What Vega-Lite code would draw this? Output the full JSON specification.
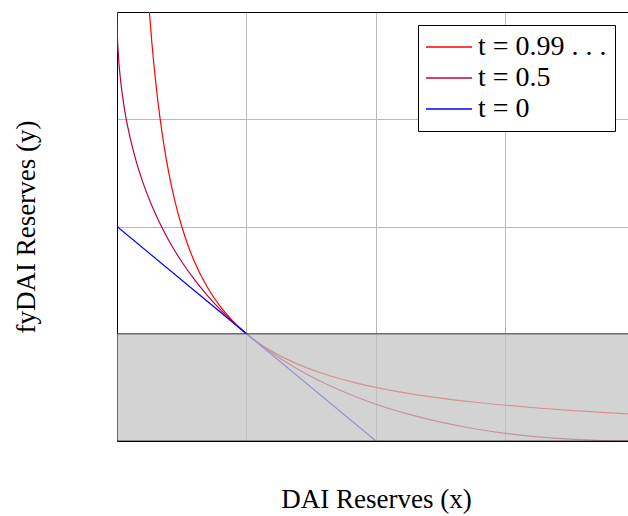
{
  "$schema": "https://vega.github.io/schema/vega-lite/v6.json",
  "width": 511,
  "height": 429,
  "autosize": "none",
  "padding": {"left": 117, "top": 12, "right": 0, "bottom": 75},
  "background": "white",
  "config": {
    "view": {"stroke": null},
    "font": "Liberation Serif",
    "axis": {
      "labels": false,
      "ticks": false,
      "domainColor": "black",
      "domainWidth": 1,
      "gridColor": "#b8b8b8",
      "gridWidth": 1,
      "titleFont": "Liberation Serif",
      "titleFontSize": 27,
      "titleFontWeight": "normal",
      "titleColor": "black"
    }
  },
  "datasets": {
    "curves": [
      {"series": "t = 0.99 . . .", "x": 0.24, "y": 4.1667},
      {"series": "t = 0.99 . . .", "x": 0.25, "y": 4.0},
      {"series": "t = 0.99 . . .", "x": 0.27, "y": 3.7037},
      {"series": "t = 0.99 . . .", "x": 0.3, "y": 3.3333},
      {"series": "t = 0.99 . . .", "x": 0.33, "y": 3.0303},
      {"series": "t = 0.99 . . .", "x": 0.36, "y": 2.7778},
      {"series": "t = 0.99 . . .", "x": 0.4, "y": 2.5},
      {"series": "t = 0.99 . . .", "x": 0.45, "y": 2.2222},
      {"series": "t = 0.99 . . .", "x": 0.5, "y": 2.0},
      {"series": "t = 0.99 . . .", "x": 0.55, "y": 1.8182},
      {"series": "t = 0.99 . . .", "x": 0.6, "y": 1.6667},
      {"series": "t = 0.99 . . .", "x": 0.7, "y": 1.4286},
      {"series": "t = 0.99 . . .", "x": 0.8, "y": 1.25},
      {"series": "t = 0.99 . . .", "x": 0.9, "y": 1.1111},
      {"series": "t = 0.99 . . .", "x": 1.0, "y": 1.0},
      {"series": "t = 0.99 . . .", "x": 1.2, "y": 0.8333},
      {"series": "t = 0.99 . . .", "x": 1.4, "y": 0.7143},
      {"series": "t = 0.99 . . .", "x": 1.6, "y": 0.625},
      {"series": "t = 0.99 . . .", "x": 1.8, "y": 0.5556},
      {"series": "t = 0.99 . . .", "x": 2.0, "y": 0.5},
      {"series": "t = 0.99 . . .", "x": 2.25, "y": 0.4444},
      {"series": "t = 0.99 . . .", "x": 2.5, "y": 0.4},
      {"series": "t = 0.99 . . .", "x": 2.75, "y": 0.3636},
      {"series": "t = 0.99 . . .", "x": 3.0, "y": 0.3333},
      {"series": "t = 0.99 . . .", "x": 3.25, "y": 0.3077},
      {"series": "t = 0.99 . . .", "x": 3.5, "y": 0.2857},
      {"series": "t = 0.99 . . .", "x": 3.75, "y": 0.2667},
      {"series": "t = 0.99 . . .", "x": 4.0, "y": 0.25},
      {"series": "t = 0.5", "x": 0.0, "y": 4.0},
      {"series": "t = 0.5", "x": 0.0025, "y": 3.8025},
      {"series": "t = 0.5", "x": 0.01, "y": 3.61},
      {"series": "t = 0.5", "x": 0.02, "y": 3.4543},
      {"series": "t = 0.5", "x": 0.05, "y": 3.1556},
      {"series": "t = 0.5", "x": 0.1, "y": 2.8351},
      {"series": "t = 0.5", "x": 0.15, "y": 2.6008},
      {"series": "t = 0.5", "x": 0.2, "y": 2.4112},
      {"series": "t = 0.5", "x": 0.3, "y": 2.1091},
      {"series": "t = 0.5", "x": 0.4, "y": 1.8702},
      {"series": "t = 0.5", "x": 0.5, "y": 1.6716},
      {"series": "t = 0.5", "x": 0.6, "y": 1.5016},
      {"series": "t = 0.5", "x": 0.7, "y": 1.3534},
      {"series": "t = 0.5", "x": 0.8, "y": 1.2223},
      {"series": "t = 0.5", "x": 0.9, "y": 1.1053},
      {"series": "t = 0.5", "x": 1.0, "y": 1.0},
      {"series": "t = 0.5", "x": 1.2, "y": 0.8182},
      {"series": "t = 0.5", "x": 1.4, "y": 0.6671},
      {"series": "t = 0.5", "x": 1.6, "y": 0.5404},
      {"series": "t = 0.5", "x": 1.8, "y": 0.4334},
      {"series": "t = 0.5", "x": 2.0, "y": 0.3431},
      {"series": "t = 0.5", "x": 2.25, "y": 0.25},
      {"series": "t = 0.5", "x": 2.5, "y": 0.1754},
      {"series": "t = 0.5", "x": 2.75, "y": 0.1168},
      {"series": "t = 0.5", "x": 3.0, "y": 0.0718},
      {"series": "t = 0.5", "x": 3.25, "y": 0.0389},
      {"series": "t = 0.5", "x": 3.5, "y": 0.0167},
      {"series": "t = 0.5", "x": 3.75, "y": 0.004},
      {"series": "t = 0.5", "x": 4.0, "y": 0.0},
      {"series": "t = 0", "x": 0.0, "y": 2.0},
      {"series": "t = 0", "x": 2.0, "y": 0.0}
    ],
    "band": [
      {"x": 0, "x2": 4, "y": 0, "y2": 1}
    ]
  },
  "layer": [
    {
      "data": {"name": "curves"},
      "mark": {"type": "line", "clip": true, "strokeWidth": 1.2, "interpolate": "monotone"},
      "encoding": {
        "x": {
          "field": "x",
          "type": "quantitative",
          "scale": {"domain": [0, 3.946], "nice": false, "zero": false},
          "axis": {
            "orient": "bottom",
            "values": [1, 2, 3],
            "grid": true,
            "title": "DAI Reserves (x)",
            "titlePadding": 45,
            "titleX": 259
          }
        },
        "y": {
          "field": "y",
          "type": "quantitative",
          "scale": {"domain": [0, 4], "nice": false, "zero": false},
          "axis": {
            "values": [1, 2, 3],
            "grid": true,
            "title": "fyDAI Reserves (y)",
            "titlePadding": 77
          }
        },
        "color": {
          "field": "series",
          "type": "nominal",
          "scale": {
            "domain": ["t = 0.99 . . .", "t = 0.5", "t = 0"],
            "range": ["#ff0000", "#bf0040", "#0000ff"]
          },
          "legend": {
            "title": null,
            "orient": "none",
            "legendX": 301,
            "legendY": 13,
            "symbolType": "M-2,0H2",
            "symbolSize": 529,
            "symbolOffset": 9,
            "symbolStrokeWidth": 1.4,
            "labelFont": "Liberation Serif",
            "labelFontSize": 28,
            "labelColor": "black",
            "labelLimit": 0,
            "labelOffset": 15,
            "rowPadding": 3,
            "padding": 8,
            "strokeColor": "black",
            "fillColor": "white",
            "cornerRadius": 0
          }
        }
      }
    },
    {
      "data": {"name": "band"},
      "mark": {"type": "rect", "clip": true, "fill": "#c4c4c4", "fillOpacity": 0.75, "stroke": "#404040", "strokeWidth": 1},
      "encoding": {
        "x": {
          "field": "x",
          "type": "quantitative",
          "axis": {"orient": "top", "grid": false, "domain": true, "title": null}
        },
        "x2": {"field": "x2"},
        "y": {"field": "y", "type": "quantitative"},
        "y2": {"field": "y2"}
      }
    }
  ],
  "resolve": {"axis": {"x": "independent"}}
}
